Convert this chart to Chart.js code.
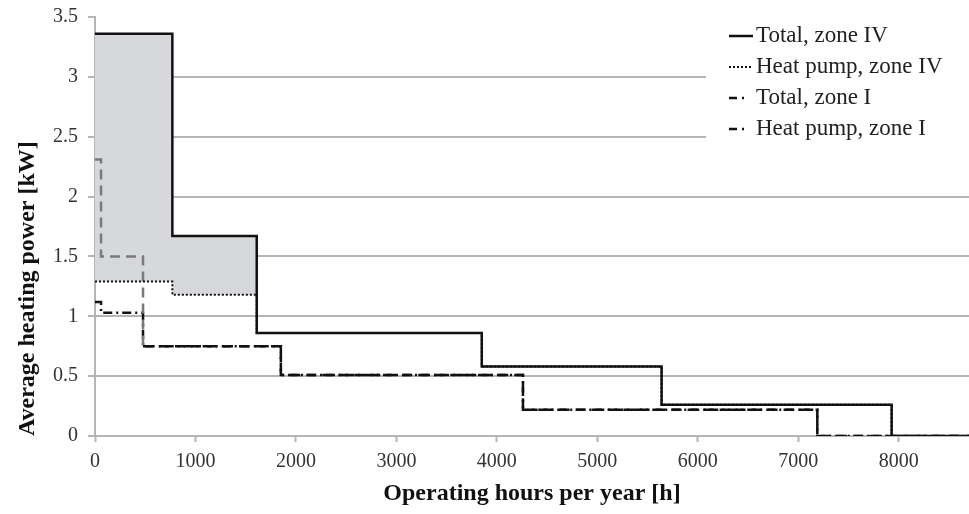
<!DOCTYPE html>
<html>
<head>
<meta charset="utf-8">
<script src="https://cdn.jsdelivr.net/npm/chart.js@4.4.1/dist/chart.umd.min.js"></script>
<style>
    body { margin: 0; background: #fff; }
    #c1 { width: 969px; height: 514px; }
</style>
</head>
<body>
<div id="c1"><canvas id="potencia"></canvas></div>
<script>
// valores (horas de inicio de cada escalon)
const horasZonaIV = [0, 770, 1610, 3850, 5640, 7930, 8700];
const totalZonaIV = [3.36, 1.67, 0.86, 0.58, 0.26, 0, 0];
const bombaZonaIV = [1.29, 1.18, 0.86, 0.58, 0.26, 0, 0];

const horasZonaI = [0, 60, 478, 1850, 4260, 7190, 8700];
const totalZonaI = [2.31, 1.5, 0.75, 0.51, 0.22, 0, 0];
const bombaZonaI = [1.12, 1.03, 0.75, 0.51, 0.22, 0, 0];

const etiquetas = ['Total, zone IV', 'Heat pump, zone IV', 'Total, zone I', 'Heat pump, zone I'];
const ticksX = [0, 1000, 2000, 3000, 4000, 5000, 6000, 7000, 8000];
const ticksY = [0, 0.5, 1, 1.5, 2, 2.5, 3, 3.5];

const serif = 'Liberation Serif';
const gris = '#b5b5b5';

// leyenda dibujada dentro del area, con fondo blanco sobre la rejilla
const leyenda = {
    id: 'leyenda',
    afterDraw: (chart) => {
        const c = chart.ctx;
        const area = chart.chartArea;
        const x0 = area.right - 263;
        const dashes = [[], [2, 2], [8, 5, 2, 30], [8, 5, 2, 30]];
        c.save();
        c.fillStyle = '#fff';
        c.fillRect(x0, area.top + 2, 263, 130);
        c.font = '23px "' + serif + '"';
        c.textBaseline = 'middle';
        c.textAlign = 'left';
        etiquetas.forEach((txt, i) => {
            const y = area.top + 19 + i * 31;
            c.beginPath();
            c.setLineDash(dashes[i]);
            c.lineWidth = i === 1 ? 2 : 2.5;
            c.strokeStyle = '#111';
            c.moveTo(x0 + 23, y);
            c.lineTo(x0 + 47, y);
            c.stroke();
            c.setLineDash([]);
            c.fillStyle = '#222';
            c.fillText(txt, x0 + 50, y);
        });
        c.restore();
    }
};

const ctx = document.getElementById('potencia').getContext('2d');

const grafica = new Chart(ctx, {
    type: 'line',
    data: {
        datasets: [{
            label: etiquetas[0],
            data: horasZonaIV.map((x, i) => ({ x: x, y: totalZonaIV[i] })),
            stepped: 'before',
            borderColor: '#111',
            borderWidth: 2.5,
            pointRadius: 0,
            fill: { target: 1, above: '#d6d8db', below: '#d6d8db' },
        }, {
            label: etiquetas[1],
            data: horasZonaIV.map((x, i) => ({ x: x, y: bombaZonaIV[i] })),
            stepped: 'before',
            borderColor: '#111',
            borderWidth: 2,
            borderDash: [2, 2],
            pointRadius: 0,
            fill: false,
        }, {
            label: etiquetas[2],
            data: horasZonaI.map((x, i) => ({ x: x, y: totalZonaI[i] })),
            stepped: 'before',
            borderColor: '#111',
            borderWidth: 2.5,
            borderDash: [10, 6],
            pointRadius: 0,
            fill: false,
            segment: {
                borderColor: s => s.p0DataIndex < 2 ? '#7a7a7a' : '#111',
            },
        }, {
            label: etiquetas[3],
            data: horasZonaI.map((x, i) => ({ x: x, y: bombaZonaI[i] })),
            stepped: 'before',
            borderColor: '#111',
            borderWidth: 2.5,
            borderDash: [9, 4, 2, 4],
            pointRadius: 0,
            fill: false,
        }]
    },
    options: {
        responsive: true,
        maintainAspectRatio: false,
        animation: false,
        layout: { padding: { top: 17, right: 0, left: 0, bottom: 0 } },
        plugins: {
            legend: { display: false },
            tooltip: { enabled: false },
            filler: { drawTime: 'beforeDatasetsDraw' },
        },
        scales: {
            x: {
                type: 'linear',
                min: 0,
                max: 8700,
                afterBuildTicks: s => { s.ticks = ticksX.map(v => ({ value: v })); },
                afterFit: s => { s.height = 78; },
                ticks: {
                    callback: v => String(v),
                    font: { family: serif, size: 20 },
                    color: '#333',
                    padding: 8,
                    maxRotation: 0,
                    autoSkip: false,
                },
                grid: { drawOnChartArea: false, tickLength: 6, tickColor: gris, tickWidth: 2 },
                border: { color: gris, width: 2 },
                title: {
                    display: true,
                    text: 'Operating hours per year [h]',
                    font: { family: serif, size: 24, weight: 'bold' },
                    color: '#111',
                    padding: { top: 0, bottom: 6 },
                },
            },
            y: {
                min: 0,
                max: 3.5,
                afterBuildTicks: s => { s.ticks = ticksY.map(v => ({ value: v })); },
                afterFit: s => { s.width = 95; s.paddingTop = 0; s.paddingBottom = 0; },
                ticks: {
                    callback: v => String(v),
                    font: { family: serif, size: 20 },
                    color: '#333',
                    padding: 10,
                },
                grid: {
                    color: g => (g.tick && g.tick.value === 3.5) ? 'rgba(0,0,0,0)' : gris,
                    lineWidth: 2,
                    tickLength: 7,
                    tickColor: gris,
                },
                border: { color: gris, width: 2 },
                title: {
                    display: true,
                    text: 'Average heating power [kW]',
                    align: 'start',
                    font: { family: serif, size: 24, weight: 'bold' },
                    color: '#111',
                    padding: { top: 13, bottom: 0 },
                },
            }
        }
    },
    plugins: [leyenda]
});
</script>
</body>
</html>
